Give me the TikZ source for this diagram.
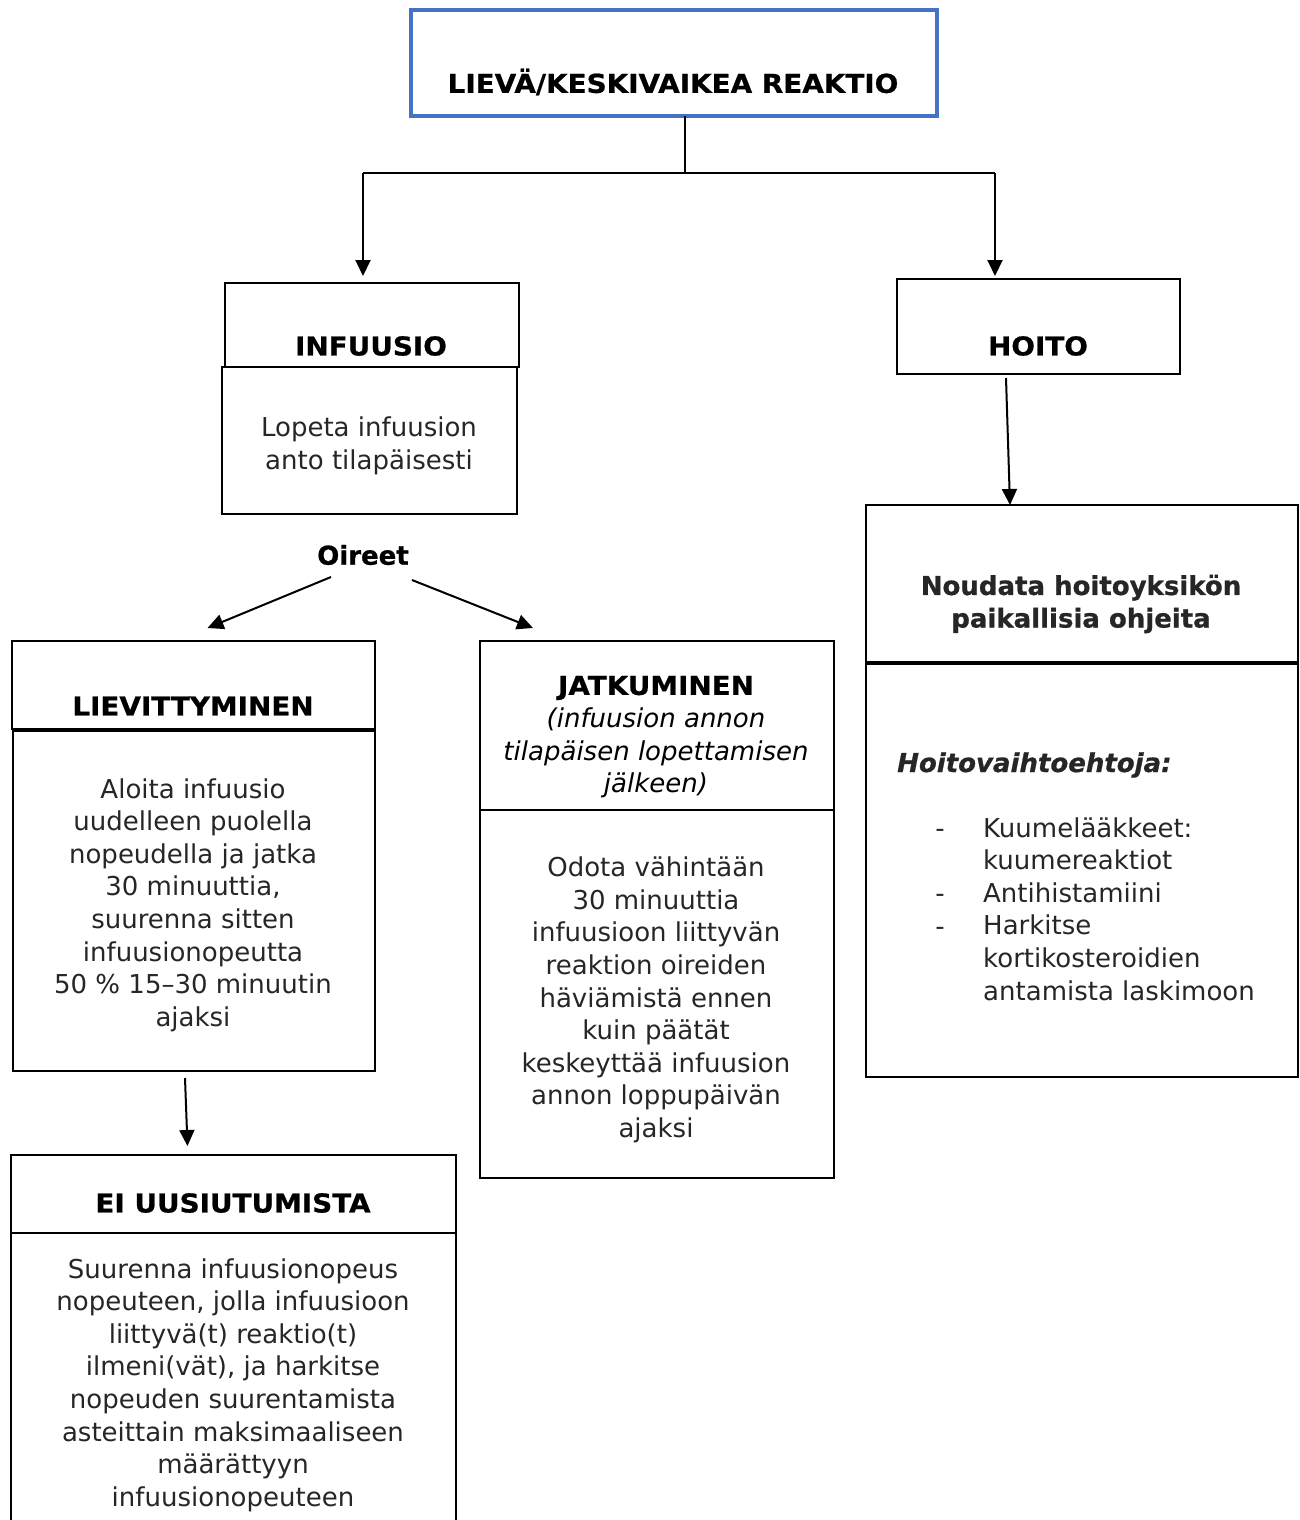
\documentclass[tikz,border=0pt]{standalone}
\usepackage{fontspec}
\setmainfont{DejaVu Sans}[BoldFeatures={FakeStretch=1.07,FakeBold=0.8},BoldItalicFeatures={FakeStretch=1.07,FakeBold=0.8}]
\newfontfamily\plainfam{DejaVu Sans}[BoldFeatures={FakeBold=0.8},BoldItalicFeatures={FakeBold=0.8}]
\usetikzlibrary{arrows.meta}
\definecolor{txt}{HTML}{262626}
\definecolor{blueline}{HTML}{4472C4}
\tikzset{
  x=1pt, y=-1pt,
  bx/.style={draw, line width=2pt, anchor=north west, inner sep=0pt, outer sep=0pt},
  tx/.style={align=center, inner sep=0pt, text=txt, font=\fontsize{26}{32.6}\selectfont},
  hd/.style={align=center, inner sep=0pt, text=black, font=\fontsize{26}{32.6}\selectfont\bfseries},
  arr/.style={line width=2pt, -{Triangle[length=16pt,width=15pt]}},
  ln/.style={line width=2pt}
}
\begin{document}
\begin{tikzpicture}
\useasboundingbox (0,0) rectangle (1299,1520);
\clip (0,0) rectangle (1299,1520);
% boxes
\node[bx, draw=blueline, line width=4.5pt, minimum width=526pt, minimum height=106pt] (title) at (411,10) {};
\node[bx, minimum width=294pt, minimum height=84pt] (infhead) at (225,283) {};
\node[bx, minimum width=295pt, minimum height=147pt] (infbody) at (222,367) {};
\node[bx, minimum width=363pt, minimum height=88pt] (lievhead) at (12,641) {};
\node[bx, minimum width=362pt, minimum height=340pt] (lievbody) at (13,731) {};
\node[bx, minimum width=445pt, minimum height=78pt] (eihead) at (11,1155) {};
\node[bx, minimum width=445pt, minimum height=330pt] (eibody) at (11,1233) {};
\node[bx, minimum width=354pt, minimum height=169pt] (jathead) at (480,641) {};
\node[bx, minimum width=354pt, minimum height=368pt] (jatbody) at (480,810) {};
\node[bx, minimum width=283pt, minimum height=95pt] (hoito) at (897,279) {};
\node[bx, minimum width=432pt, minimum height=158pt] (noud) at (866,505) {};
\node[bx, minimum width=432pt, minimum height=414pt] (noudbody) at (866,663) {};
\draw[line width=3.5pt] (noudbody.north west) -- (noudbody.north east);
% texts
\node[hd] (titletxt) at (673,82) {LIEVÄ/KESKIVAIKEA REAKTIO};
\node[hd] (inftxt) at (371,346) {INFUUSIO};
\node[tx] (lopeta) at (369,446) {Lopeta infuusion\\anto tilapäisesti};
\node[hd, font=\fontsize{26}{32.6}\selectfont\plainfam\bfseries] (oireet) at (363,555) {Oireet};
\node[hd] (lievtxt) at (193,706) {LIEVITTYMINEN};
\node[tx] (aloita) at (193,905) {Aloita infuusio\\uudelleen puolella\\nopeudella ja jatka\\30 minuuttia,\\suurenna sitten\\infuusionopeutta\\50 \% 15–30 minuutin\\ajaksi};
\node[hd] (eitxt) at (233,1203) {EI UUSIUTUMISTA};
\node[tx] (suurenna) at (233,1385) {Suurenna infuusionopeus\\nopeuteen, jolla infuusioon\\liittyvä(t) reaktio(t)\\ilmeni(vät), ja harkitse\\nopeuden suurentamista\\asteittain maksimaaliseen\\määrättyyn\\infuusionopeuteen};
\node[tx, text=black] (jattxt) at (656,737) {\textbf{JATKUMINEN}\\\textit{(infuusion annon}\\\textit{tilapäisen lopettamisen}\\\textit{jälkeen)}};
\node[tx] (odota) at (656,1000) {Odota vähintään\\30 minuuttia\\infuusioon liittyvän\\reaktion oireiden\\häviämistä ennen\\kuin päätät\\keskeyttää infuusion\\annon loppupäivän\\ajaksi};
\node[hd] (hoitotxt) at (1038,346) {HOITO};
\node[hd, text=txt, font=\fontsize{26}{32.6}\selectfont\plainfam\bfseries] (noudtxt) at (1081,604) {Noudata hoitoyksikön\\paikallisia ohjeita};
\node[tx, anchor=base west, font=\fontsize{26}{32.6}\selectfont\plainfam\bfseries\itshape] (hv) at (897,772) {Hoitovaihtoehtoja:};
\node[tx, anchor=base, align=center] (dashes) at (940,935) {-\\\strut\\-\\-};
\node[tx, anchor=base west, align=left] (list) at (983,1000) {Kuumelääkkeet:\\kuumereaktiot\\Antihistamiini\\Harkitse\\kortikosteroidien\\antamista laskimoon};
% connectors
\coordinate (j) at (685,173);
\coordinate (jl) at (363,173);
\coordinate (jr) at (995,173);
\draw[ln] (title.south -| j) -- (j);
\draw[ln] (jl) -- (jr);
\draw[arr, shorten >=7pt] (jl) -- (infhead.north -| jl);
\draw[arr, shorten >=3pt] (jr) -- (hoito.north -| jr);
\draw[arr] ([xshift=-32pt,yshift=-22pt]oireet.center) -- ([xshift=14pt,yshift=13pt]lievhead.north);
\draw[arr] ([xshift=49pt,yshift=-25pt]oireet.center) -- ([xshift=53pt,yshift=13pt]jathead.north west);
\draw[arr] ([xshift=-32.5pt,yshift=-4pt]hoito.south) -- ([xshift=144pt]noud.north west);
\draw[arr] ([xshift=-9pt,yshift=-7pt]lievbody.south) -- ([xshift=-46pt,yshift=9pt]eihead.north);
\end{tikzpicture}
\end{document}
